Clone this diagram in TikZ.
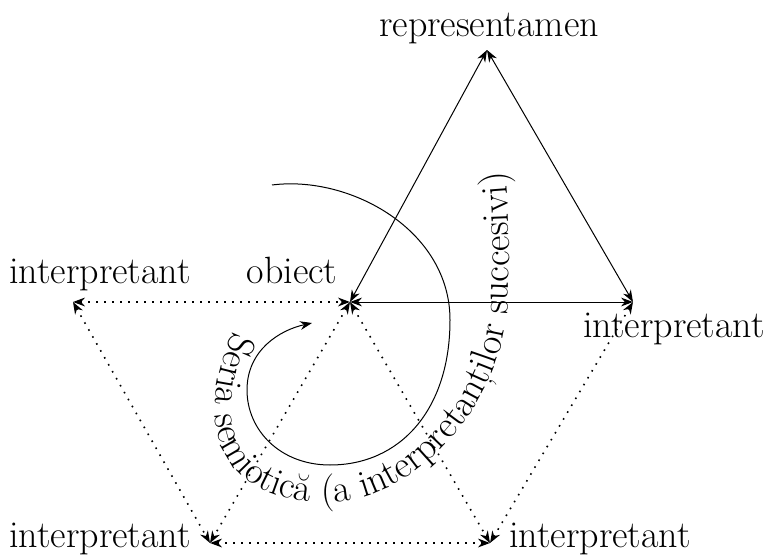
\documentclass[tikz,border=0pt]{standalone}
\usepackage{fontspec}
\usetikzlibrary{arrows.meta,decorations.text}

\begin{document}
\begin{tikzpicture}[x=0.5pt,y=-0.5pt,
  lbl/.style={anchor=base,inner sep=0pt,font=\fontsize{19}{22}\selectfont},
  tip/.tip={Stealth[length=6pt,width=4.4pt]},
  link/.style={tip-tip, line width=0.5pt},
  dotlink/.style={link, line width=0.8pt, dash pattern=on 0.8pt off 3.2pt}]
  \useasboundingbox (0,0) rectangle (766,556);
  % vertices
  \coordinate (R) at (487,50);
  \coordinate (O) at (350,302);
  \coordinate (I1) at (633,302);
  \coordinate (L) at (73,302);
  \coordinate (BL) at (210,543);
  \coordinate (BR) at (490,543);
  % labels
  \node[lbl] (rep) at (489,37) {representamen};
  \node[lbl] (obj) at (292,283) {obiect};
  \node[lbl] (intL) at (100,283) {interpretant};
  \node[lbl] (intR) at (674,337) {interpretant};
  \node[lbl] (intBL) at (100,547) {interpretant};
  \node[lbl] (intBR) at (600,547) {interpretant};
  % triangle
  \draw[link] (R) -- (O);
  \draw[link] (R) -- (I1);
  \draw[link] (O) -- (I1);
  % dotted series
  \draw[dotlink] (L) -- (O);
  \draw[dotlink] (L) -- (BL);
  \draw[dotlink] (O) -- (BL);
  \draw[dotlink] (O) -- (BR);
  \draw[dotlink] (BL) -- (BR);
  \draw[dotlink] (BR) -- (I1);
  % spiral
  \draw[line width=0.5pt,-tip] (272,185)
    .. controls (350,175) and (450,230) .. (450,320)
    .. controls (450,410) and (400,465) .. (330,465)
    .. controls (280,465) and (247,430) .. (247,390)
    .. controls (247,350) and (280,330) .. (312,323);
  \path[decorate, decoration={text along path,
      text={|\fontsize{19}{22}\selectfont|Seria semiotică (a interpretanților succesivi)}}]
    (234,332) .. controls (195,410) and (210,505) .. (330,502)
    .. controls (420,500) and (505,400) .. (508,300)
    .. controls (511,240) and (508,180) .. (500,130);
\end{tikzpicture}
\end{document}
